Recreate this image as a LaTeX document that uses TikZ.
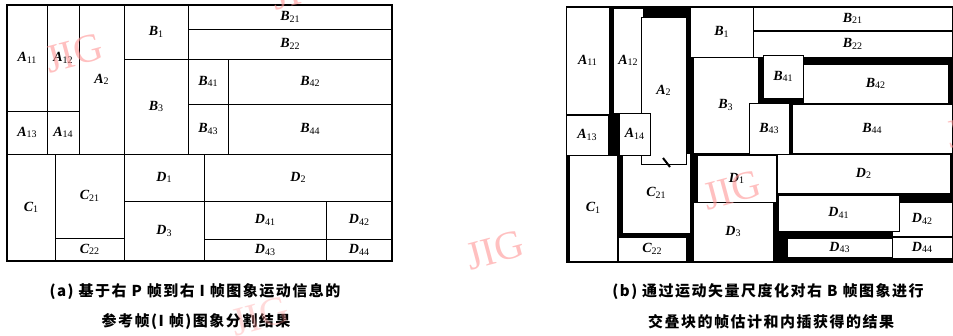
\documentclass[tikz,border=0pt]{standalone}
\usepackage{fontspec}
\setmainfont{Liberation Serif}
\newfontfamily\cjk[LetterSpace=10]{Noto Sans CJK SC}
\newcommand\lbl[2]{{\fontsize{14}{14}\selectfont\bfseries\itshape #1}{\fontsize{10}{10}\selectfont\raisebox{-0.35ex}{#2}}}
\newcommand\blka[6]{\draw[cella] (#2,#3) rectangle (#4,#5); \node[lab] (#1) at ({(#2+#4)/2},{(#3+#5)/2}) {#6};}
\newcommand\blkb[6]{\draw[cellb] (#2,#3) rectangle (#4,#5); \node[lab] (#1) at ({(#2+#4)/2},{(#3+#5)/2}) {#6};}
\definecolor{wmpink}{RGB}{255,150,150}
\tikzset{
  cella/.style={draw=black, line width=1pt},
  cellb/.style={draw=black, fill=white, line width=1pt},
  lab/.style={inner sep=0pt},
  captxt/.style={font=\cjk\bfseries\fontsize{15}{15}\selectfont, inner sep=0pt},
  wm/.style={text=wmpink, text opacity=0.6, font=\fontsize{40}{40}\selectfont, inner sep=0pt},
}
\begin{document}
\begin{tikzpicture}[x=1pt,y=-1pt]
\useasboundingbox (0,0) rectangle (953,335);
\fill[white] (0,0) rectangle (953,335);
% ---------- panel (a)
\blka{aA11}{7}{5}{47}{111}{\lbl{A}{11}}
\blka{aA12}{47}{5}{79}{111}{\lbl{A}{12}}
\blka{aA2}{79}{5}{124}{154}{\lbl{A}{2}}
\blka{aA13}{7}{111}{47}{154}{\lbl{A}{13}}
\blka{aA14}{47}{111}{79}{154}{\lbl{A}{14}}
\blka{aB1}{124}{5}{188}{59}{\lbl{B}{1}}
\blka{aB21}{188}{5}{392}{29}{\lbl{B}{21}}
\blka{aB22}{188}{29}{392}{59}{\lbl{B}{22}}
\blka{aB3}{124}{59}{188}{154}{\lbl{B}{3}}
\blka{aB41}{188}{59}{228}{104}{\lbl{B}{41}}
\blka{aB42}{228}{59}{392}{104}{\lbl{B}{42}}
\blka{aB43}{188}{104}{228}{154}{\lbl{B}{43}}
\blka{aB44}{228}{104}{392}{154}{\lbl{B}{44}}
\blka{aC1}{7}{154}{55}{261}{\lbl{C}{1}}
\blka{aC21}{55}{154}{124}{238}{\lbl{C}{21}}
\blka{aC22}{55}{238}{124}{261}{\lbl{C}{22}}
\blka{aD1}{124}{154}{204}{201}{\lbl{D}{1}}
\blka{aD2}{204}{154}{392}{201}{\lbl{D}{2}}
\blka{aD3}{124}{201}{204}{261}{\lbl{D}{3}}
\blka{aD41}{204}{201}{326}{239}{\lbl{D}{41}}
\blka{aD42}{326}{201}{392}{239}{\lbl{D}{42}}
\blka{aD43}{204}{239}{326}{261}{\lbl{D}{43}}
\blka{aD44}{326}{239}{392}{261}{\lbl{D}{44}}
\draw[line width=1.3pt] (7,5) rectangle (392,261);
% ---------- panel (b)
\fill[black] (566,6) rectangle (953,263);
\blkb{bA11}{566}{7}{609}{114}{\lbl{A}{11}}
\blkb{bA12}{613}{8}{643}{113}{\lbl{A}{12}}
\blkb{bC21}{622}{153}{690}{233}{\lbl{C}{21}}
\blkb{bA2}{641}{17}{686}{164}{\lbl{A}{2}}
\blkb{bA13}{566}{115}{608}{155}{\lbl{A}{13}}
\blkb{bA14}{619}{113}{650}{155}{\lbl{A}{14}}
\blkb{bB1}{690}{7}{753}{57}{\lbl{B}{1}}
\blkb{bB21}{753}{7}{952}{30}{\lbl{B}{21}}
\blkb{bB22}{753}{31}{952}{57}{\lbl{B}{22}}
\blkb{bB3}{693}{57}{758}{153}{\lbl{B}{3}}
\blkb{bB42}{803}{64}{948}{103}{\lbl{B}{42}}
\blkb{bB41}{763}{55}{803}{98}{\lbl{B}{41}}
\blkb{bB44}{792}{104}{952}{153}{\lbl{B}{44}}
\blkb{bB43}{749}{103}{789}{154}{\lbl{B}{43}}
\blkb{bC1}{569}{155}{617}{261}{\lbl{C}{1}}
\blkb{bC22}{618}{237}{686}{261}{\lbl{C}{22}}
\blkb{bD1}{697}{155}{776}{202}{\lbl{D}{1}}
\blkb{bD2}{777}{154}{950}{193}{\lbl{D}{2}}
\blkb{bD3}{693}{202}{773}{261}{\lbl{D}{3}}
\blkb{bD42}{892}{202}{952}{236}{\lbl{D}{42}}
\blkb{bD41}{778}{195}{899}{231}{\lbl{D}{41}}
\blkb{bD43}{787}{238}{892}{257}{\lbl{D}{43}}
\blkb{bD44}{892}{237}{952}{258}{\lbl{D}{44}}
\coordinate (mk1) at (663,158);
\coordinate (mk2) at (670,167);
\draw[line width=2pt] (mk1) -- (mk2);
% ---------- captions
\node[captxt] (capa1) at (195,292) {(a) 基于右 P 帧到右 I 帧图象运动信息的};
\node[captxt] (capa2) at (196,321) {参考帧(I 帧)图象分割结果};
\node[captxt] (capb1) at (768,292) {(b) 通过运动矢量尺度化对右 B 帧图象进行};
\node[captxt] (capb2) at (771,322) {交叠块的帧估计和内插获得的结果};
% ---------- watermarks
\begin{scope}
\clip (0,0) rectangle (953,335);
\node[wm, rotate=15] (wm1) at (74,53) {JIG};
\node[wm, rotate=15] (wm2) at (300,-10) {JIG};
\node[wm, rotate=15] (wm3) at (495,250) {JIG};
\node[wm, rotate=15, text opacity=0.35] (wm4) at (260,316) {JIG};
\node[wm, rotate=15] (wm5) at (732,190) {JIG};
\node[wm, rotate=15] (wm6) at (975,128) {JIG};
\end{scope}
\end{tikzpicture}
\end{document}
